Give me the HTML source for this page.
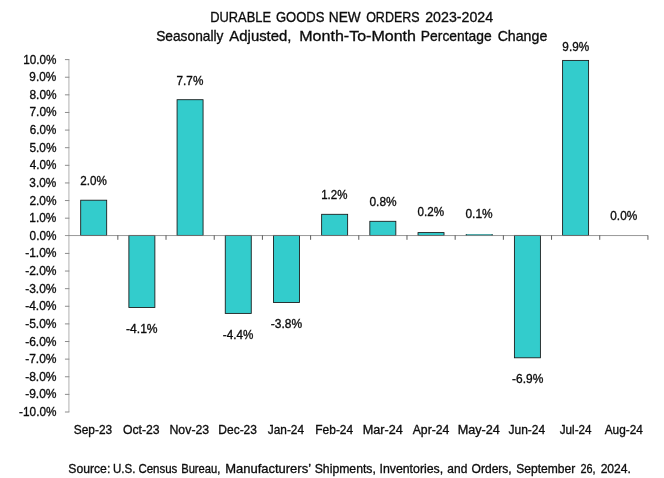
<!DOCTYPE html>
<html lang="en">
<head>
<meta charset="utf-8">
<title>Durable Goods New Orders 2023-2024</title>
<style>
html,body{margin:0;padding:0;background:#fff;}
body{width:664px;height:478px;overflow:hidden;}
svg{display:block;}
text{font-family:"Liberation Sans", Arial, Helvetica, sans-serif;fill:#0c0c0c;stroke:#0c0c0c;stroke-width:0.33px;}
.t{font-size:14.8px;}
.y{font-size:12.4px;}
.x{font-size:13px;}
.d{font-size:12.3px;}
.s{font-size:13.1px;}
</style>
</head>
<body>
<svg width="664" height="478" viewBox="0 0 664 478" role="img" aria-label="Durable goods new orders bar chart">
<rect x="0" y="0" width="664" height="478" fill="#ffffff"/>
<g id="yaxis">
<line x1="68.90" y1="59.60" x2="68.90" y2="412.00" stroke="#c2c2c2" stroke-width="1.3"/>
<line x1="64.95" y1="59.60" x2="69.35" y2="59.60" stroke="#8c8c8c" stroke-width="1"/>
<line x1="64.95" y1="77.22" x2="69.35" y2="77.22" stroke="#8c8c8c" stroke-width="1"/>
<line x1="64.95" y1="94.84" x2="69.35" y2="94.84" stroke="#8c8c8c" stroke-width="1"/>
<line x1="64.95" y1="112.46" x2="69.35" y2="112.46" stroke="#8c8c8c" stroke-width="1"/>
<line x1="64.95" y1="130.08" x2="69.35" y2="130.08" stroke="#8c8c8c" stroke-width="1"/>
<line x1="64.95" y1="147.70" x2="69.35" y2="147.70" stroke="#8c8c8c" stroke-width="1"/>
<line x1="64.95" y1="165.32" x2="69.35" y2="165.32" stroke="#8c8c8c" stroke-width="1"/>
<line x1="64.95" y1="182.94" x2="69.35" y2="182.94" stroke="#8c8c8c" stroke-width="1"/>
<line x1="64.95" y1="200.56" x2="69.35" y2="200.56" stroke="#8c8c8c" stroke-width="1"/>
<line x1="64.95" y1="218.18" x2="69.35" y2="218.18" stroke="#8c8c8c" stroke-width="1"/>
<line x1="64.95" y1="253.42" x2="69.35" y2="253.42" stroke="#8c8c8c" stroke-width="1"/>
<line x1="64.95" y1="271.04" x2="69.35" y2="271.04" stroke="#8c8c8c" stroke-width="1"/>
<line x1="64.95" y1="288.66" x2="69.35" y2="288.66" stroke="#8c8c8c" stroke-width="1"/>
<line x1="64.95" y1="306.28" x2="69.35" y2="306.28" stroke="#8c8c8c" stroke-width="1"/>
<line x1="64.95" y1="323.90" x2="69.35" y2="323.90" stroke="#8c8c8c" stroke-width="1"/>
<line x1="64.95" y1="341.52" x2="69.35" y2="341.52" stroke="#8c8c8c" stroke-width="1"/>
<line x1="64.95" y1="359.14" x2="69.35" y2="359.14" stroke="#8c8c8c" stroke-width="1"/>
<line x1="64.95" y1="376.76" x2="69.35" y2="376.76" stroke="#8c8c8c" stroke-width="1"/>
<line x1="64.95" y1="394.38" x2="69.35" y2="394.38" stroke="#8c8c8c" stroke-width="1"/>
<line x1="64.95" y1="412.00" x2="69.35" y2="412.00" stroke="#8c8c8c" stroke-width="1"/>
</g>
<g id="bars">
<rect x="80.69" y="200.20" width="26.0" height="35.20" fill="#33cccc" stroke="#151515" stroke-width="0.85"/>
<rect x="128.88" y="235.40" width="26.0" height="72.10" fill="#33cccc" stroke="#151515" stroke-width="0.85"/>
<rect x="177.07" y="99.70" width="26.0" height="135.70" fill="#33cccc" stroke="#151515" stroke-width="0.85"/>
<rect x="225.26" y="235.40" width="26.0" height="78.00" fill="#33cccc" stroke="#151515" stroke-width="0.85"/>
<rect x="273.45" y="235.40" width="26.0" height="67.10" fill="#33cccc" stroke="#151515" stroke-width="0.85"/>
<rect x="321.64" y="214.30" width="26.0" height="21.10" fill="#33cccc" stroke="#151515" stroke-width="0.85"/>
<rect x="369.84" y="221.30" width="26.0" height="14.10" fill="#33cccc" stroke="#151515" stroke-width="0.85"/>
<rect x="418.02" y="232.60" width="26.0" height="2.80" fill="#33cccc" stroke="#151515" stroke-width="0.85"/>
<rect x="465.82" y="234.30" width="26.8" height="1.35" fill="#078585"/>
<rect x="465.82" y="234.30" width="0.9" height="1.35" fill="#111"/>
<rect x="491.72" y="234.30" width="0.9" height="1.35" fill="#111"/>
<rect x="514.40" y="235.40" width="26.0" height="122.40" fill="#33cccc" stroke="#151515" stroke-width="0.85"/>
<rect x="562.60" y="60.40" width="26.0" height="175.00" fill="#33cccc" stroke="#151515" stroke-width="0.85"/>
</g>
<g id="xaxis">
<line x1="64.95" y1="235.55" x2="647.93" y2="235.55" stroke="#7d7d7d" stroke-width="0.8"/>
<line x1="117.84" y1="235.4" x2="117.84" y2="239.80" stroke="#4a4a4a" stroke-width="0.9"/>
<line x1="166.03" y1="235.4" x2="166.03" y2="239.80" stroke="#4a4a4a" stroke-width="0.9"/>
<line x1="214.22" y1="235.4" x2="214.22" y2="239.80" stroke="#4a4a4a" stroke-width="0.9"/>
<line x1="262.41" y1="235.4" x2="262.41" y2="239.80" stroke="#4a4a4a" stroke-width="0.9"/>
<line x1="310.60" y1="235.4" x2="310.60" y2="239.80" stroke="#4a4a4a" stroke-width="0.9"/>
<line x1="358.79" y1="235.4" x2="358.79" y2="239.80" stroke="#4a4a4a" stroke-width="0.9"/>
<line x1="406.98" y1="235.4" x2="406.98" y2="239.80" stroke="#4a4a4a" stroke-width="0.9"/>
<line x1="455.17" y1="235.4" x2="455.17" y2="239.80" stroke="#4a4a4a" stroke-width="0.9"/>
<line x1="503.36" y1="235.4" x2="503.36" y2="239.80" stroke="#4a4a4a" stroke-width="0.9"/>
<line x1="551.55" y1="235.4" x2="551.55" y2="239.80" stroke="#4a4a4a" stroke-width="0.9"/>
<line x1="599.74" y1="235.4" x2="599.74" y2="239.80" stroke="#4a4a4a" stroke-width="0.9"/>
<line x1="647.93" y1="235.4" x2="647.93" y2="239.80" stroke="#4a4a4a" stroke-width="0.9"/>
</g>
<g id="labels">
<text class="t" y="21.70"><tspan x="210.14" textLength="60.92" lengthAdjust="spacingAndGlyphs">DURABLE</tspan> <tspan x="275.95" textLength="48.54" lengthAdjust="spacingAndGlyphs">GOODS</tspan> <tspan x="328.79" textLength="31.92" lengthAdjust="spacingAndGlyphs">NEW</tspan> <tspan x="366.17" textLength="53.40" lengthAdjust="spacingAndGlyphs">ORDERS</tspan> <tspan x="425.24" textLength="67.83" lengthAdjust="spacingAndGlyphs">2023-2024</tspan></text>
<text class="t" y="40.80"><tspan x="156.17" textLength="67.26" lengthAdjust="spacingAndGlyphs">Seasonally</tspan> <tspan x="229.38" textLength="62.07" lengthAdjust="spacingAndGlyphs">Adjusted,</tspan> <tspan x="299.27" textLength="116.71" lengthAdjust="spacingAndGlyphs">Month-To-Month</tspan> <tspan x="420.85" textLength="70.79" lengthAdjust="spacingAndGlyphs">Percentage</tspan> <tspan x="497.64" textLength="49.64" lengthAdjust="spacingAndGlyphs">Change</tspan></text>
<text class="s" y="473.00"><tspan x="68.29" textLength="41.99" lengthAdjust="spacingAndGlyphs">Source:</tspan> <tspan x="112.93" textLength="22.43" lengthAdjust="spacingAndGlyphs">U.S.</tspan> <tspan x="138.43" textLength="38.85" lengthAdjust="spacingAndGlyphs">Census</tspan> <tspan x="181.21" textLength="39.15" lengthAdjust="spacingAndGlyphs">Bureau,</tspan> <tspan x="225.22" textLength="85.34" lengthAdjust="spacingAndGlyphs">Manufacturers’</tspan> <tspan x="314.72" textLength="61.15" lengthAdjust="spacingAndGlyphs">Shipments,</tspan> <tspan x="379.46" textLength="63.71" lengthAdjust="spacingAndGlyphs">Inventories,</tspan> <tspan x="447.37" textLength="19.91" lengthAdjust="spacingAndGlyphs">and</tspan> <tspan x="471.62" textLength="40.09" lengthAdjust="spacingAndGlyphs">Orders,</tspan> <tspan x="516.22" textLength="58.98" lengthAdjust="spacingAndGlyphs">September</tspan> <tspan x="580.43" textLength="15.19" lengthAdjust="spacingAndGlyphs">26,</tspan> <tspan x="600.63" textLength="30.36" lengthAdjust="spacingAndGlyphs">2024.</tspan></text>
<text class="x" x="73.83" y="434.00" textLength="38.33" lengthAdjust="spacingAndGlyphs">Sep-23</text>
<text class="x" x="122.93" y="434.00" textLength="36.71" lengthAdjust="spacingAndGlyphs">Oct-23</text>
<text class="x" x="169.47" y="434.00" textLength="39.73" lengthAdjust="spacingAndGlyphs">Nov-23</text>
<text class="x" x="218.30" y="434.00" textLength="38.68" lengthAdjust="spacingAndGlyphs">Dec-23</text>
<text class="x" x="267.82" y="434.00" textLength="36.23" lengthAdjust="spacingAndGlyphs">Jan-24</text>
<text class="x" x="315.31" y="434.00" textLength="37.88" lengthAdjust="spacingAndGlyphs">Feb-24</text>
<text class="x" x="362.70" y="434.00" textLength="40.12" lengthAdjust="spacingAndGlyphs">Mar-24</text>
<text class="x" x="412.68" y="434.00" textLength="36.75" lengthAdjust="spacingAndGlyphs">Apr-24</text>
<text class="x" x="457.63" y="434.00" textLength="42.25" lengthAdjust="spacingAndGlyphs">May-24</text>
<text class="x" x="508.54" y="434.00" textLength="36.64" lengthAdjust="spacingAndGlyphs">Jun-24</text>
<text class="x" x="559.77" y="434.00" textLength="31.83" lengthAdjust="spacingAndGlyphs">Jul-24</text>
<text class="x" x="604.74" y="434.00" textLength="38.13" lengthAdjust="spacingAndGlyphs">Aug-24</text>
<text class="d" x="80.24" y="184.90" textLength="26.51" lengthAdjust="spacingAndGlyphs">2.0%</text>
<text class="d" x="126.03" y="333.40" textLength="31.59" lengthAdjust="spacingAndGlyphs">-4.1%</text>
<text class="d" x="176.58" y="84.80" textLength="26.73" lengthAdjust="spacingAndGlyphs">7.7%</text>
<text class="d" x="222.82" y="339.20" textLength="30.44" lengthAdjust="spacingAndGlyphs">-4.4%</text>
<text class="d" x="270.78" y="328.00" textLength="31.35" lengthAdjust="spacingAndGlyphs">-3.8%</text>
<text class="d" x="321.19" y="198.80" textLength="26.19" lengthAdjust="spacingAndGlyphs">1.2%</text>
<text class="d" x="369.50" y="206.40" textLength="27.14" lengthAdjust="spacingAndGlyphs">0.8%</text>
<text class="d" x="417.50" y="216.00" textLength="26.59" lengthAdjust="spacingAndGlyphs">0.2%</text>
<text class="d" x="465.50" y="217.90" textLength="27.15" lengthAdjust="spacingAndGlyphs">0.1%</text>
<text class="d" x="512.05" y="382.80" textLength="31.26" lengthAdjust="spacingAndGlyphs">-6.9%</text>
<text class="d" x="562.37" y="50.80" textLength="26.80" lengthAdjust="spacingAndGlyphs">9.9%</text>
<text class="d" x="610.30" y="219.80" textLength="26.95" lengthAdjust="spacingAndGlyphs">0.0%</text>
<text class="y" x="23.19" y="63.60" textLength="33.20" lengthAdjust="spacingAndGlyphs">10.0%</text>
<text class="y" x="29.36" y="81.22" textLength="26.91" lengthAdjust="spacingAndGlyphs">9.0%</text>
<text class="y" x="29.47" y="98.84" textLength="27.12" lengthAdjust="spacingAndGlyphs">8.0%</text>
<text class="y" x="29.46" y="116.46" textLength="27.13" lengthAdjust="spacingAndGlyphs">7.0%</text>
<text class="y" x="29.77" y="134.08" textLength="26.45" lengthAdjust="spacingAndGlyphs">6.0%</text>
<text class="y" x="29.47" y="151.70" textLength="27.01" lengthAdjust="spacingAndGlyphs">5.0%</text>
<text class="y" x="29.83" y="169.32" textLength="26.68" lengthAdjust="spacingAndGlyphs">4.0%</text>
<text class="y" x="29.34" y="186.94" textLength="26.90" lengthAdjust="spacingAndGlyphs">3.0%</text>
<text class="y" x="29.42" y="204.56" textLength="27.12" lengthAdjust="spacingAndGlyphs">2.0%</text>
<text class="y" x="29.37" y="222.18" textLength="27.00" lengthAdjust="spacingAndGlyphs">1.0%</text>
<text class="y" x="29.60" y="239.80" textLength="26.85" lengthAdjust="spacingAndGlyphs">0.0%</text>
<text class="y" x="25.13" y="257.42" textLength="31.46" lengthAdjust="spacingAndGlyphs">-1.0%</text>
<text class="y" x="25.13" y="275.04" textLength="31.46" lengthAdjust="spacingAndGlyphs">-2.0%</text>
<text class="y" x="25.13" y="292.66" textLength="31.46" lengthAdjust="spacingAndGlyphs">-3.0%</text>
<text class="y" x="25.13" y="310.28" textLength="31.46" lengthAdjust="spacingAndGlyphs">-4.0%</text>
<text class="y" x="25.13" y="327.90" textLength="31.46" lengthAdjust="spacingAndGlyphs">-5.0%</text>
<text class="y" x="25.13" y="345.52" textLength="31.46" lengthAdjust="spacingAndGlyphs">-6.0%</text>
<text class="y" x="25.13" y="363.14" textLength="31.46" lengthAdjust="spacingAndGlyphs">-7.0%</text>
<text class="y" x="25.13" y="380.76" textLength="31.46" lengthAdjust="spacingAndGlyphs">-8.0%</text>
<text class="y" x="25.13" y="398.38" textLength="31.46" lengthAdjust="spacingAndGlyphs">-9.0%</text>
<text class="y" x="19.12" y="416.00" textLength="37.31" lengthAdjust="spacingAndGlyphs">-10.0%</text>
</g>
</svg>
</body>
</html>
